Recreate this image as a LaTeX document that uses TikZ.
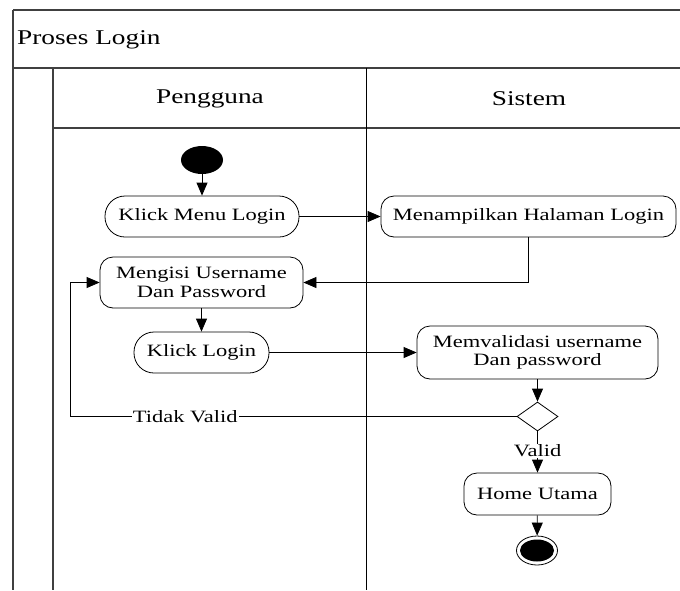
\documentclass[tikz,border=0pt]{standalone}
\usepackage{fontspec}
\setmainfont{Liberation Serif}[FakeStretch=1.3]
\usetikzlibrary{shapes.geometric,arrows.meta}
\begin{document}
\begin{tikzpicture}[x=1pt,y=-1pt,
  every node/.style={font=\fontsize{17.3}{18.5}\selectfont},
  head/.style={font=\fontsize{21}{24}\selectfont},
  frame/.style={draw=black!75, line width=1.3pt},
  lane/.style={draw=black, line width=0.9pt},
  act/.style={draw, line width=0.8pt, rectangle, rounded corners=13pt, align=center, inner sep=2pt},
  stadium/.style={draw, line width=0.8pt, rectangle, rounded corners=20pt, inner sep=2pt},
  conn/.style={draw, line width=0.8pt, -{Triangle[length=13pt,width=11pt]}},
  plain/.style={draw, line width=0.8pt},
  lbl/.style={fill=white, inner sep=1pt}
]
\useasboundingbox (0,0) rectangle (680,590);
% frame
\draw[frame] (13,10) -- (680,10);
\draw[frame] (13,10) -- (13,590);
\draw[frame] (13,68) -- (680,68);
\draw[frame] (53,68) -- (53,590);
\draw[frame] (53,128) -- (680,128);
\draw[lane] (366,68) -- (366,590);
\node[head, anchor=west, inner sep=0] (title) at (17,40) {Proses Login};
\node[head] (pengguna) at (210,99) {Pengguna};
\node[head] (sistem) at (529,99) {Sistem};
% nodes
\node[ellipse, fill=black, minimum width=42, minimum height=28, inner sep=0] (start) at (202,160) {};
\node[stadium, minimum width=194, minimum height=41] (kml) at (202,216.5) {Klick Menu Login};
\node[act, minimum width=295, minimum height=41] (mhl) at (528.5,216.5) {Menampilkan Halaman Login};
\node[act, minimum width=203, minimum height=51] (mup) at (201.5,282.5) {Mengisi Username\\Dan Password};
\node[stadium, minimum width=135, minimum height=41] (kl) at (201.5,352.5) {Klick Login};
\node[act, minimum width=241, minimum height=53] (mvu) at (537.5,352.5) {Memvalidasi username\\Dan password};
\node[diamond, draw, line width=0.8pt, minimum width=41, minimum height=29, inner sep=0, aspect=1.4] (dec) at (537.5,416.5) {};
\node[act, minimum width=147, minimum height=42] (home) at (537.5,494) {Home Utama};
\node[ellipse, draw, line width=0.8pt, fill=white, minimum width=41, minimum height=29, inner sep=0] (end) at (537,550.5) {};
\node[ellipse, fill=black, minimum width=34, minimum height=22, inner sep=0] (endin) at (end.center) {};
\coordinate (tv) at (70,416.5);
% connectors
\draw[conn] (start) -- (kml);
\draw[conn] (kml) -- (mhl);
\draw[conn] (mhl.south) |- (mup.east);
\draw[conn] (mup) -- (kl);
\draw[conn] (kl) -- (mvu);
\draw[conn] (mvu) -- (dec);
\draw[plain] (dec.west) -- node[lbl, pos=0.742] (tvl) {Tidak Valid} (tv);
\draw[conn] (tv) |- (mup.west);
\draw[conn] (dec.south) -- node[lbl, pos=0.47] (vl) {Valid} (home.north);
\draw[conn] (home) -- (end);
\end{tikzpicture}
\end{document}
